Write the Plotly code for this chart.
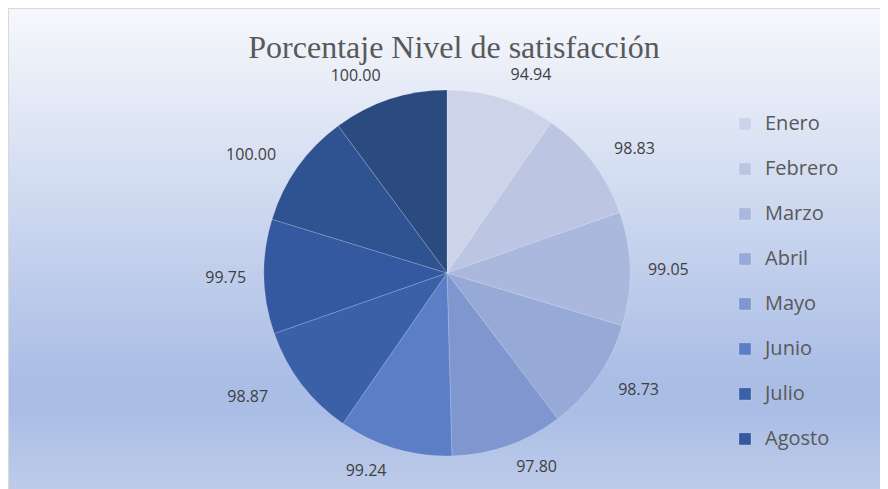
import base64
import plotly.graph_objects as go

# ---- data ----
months = ["Enero", "Febrero", "Marzo", "Abril", "Mayo", "Junio",
          "Julio", "Agosto", "Septiembre", "Octubre"]
satisfaction = [94.94, 98.83, 99.05, 98.73, 97.80, 99.24, 98.87, 99.75, 100.00, 100.00]
slice_colors = ["#cdd3e8", "#bcc6e3", "#abb8de", "#97a9d6", "#7f96ce",
                "#5b7ec7", "#3a61a8", "#3459a0", "#2f5291", "#2b4a80"]
title_text = "Porcentaje Nivel de satisfacción"

W, H = 888, 489
OFF = 8  # the page body adds an 8px offset

# legend entries: visible text at 20px, plus a wide spacer line (Excel-like spacing)
spacer = "\u00a0" * 45
legend_labels = [f"<span style='font-size:20px'>{m}</span><br>{spacer}" for m in months]

# gradient background (Excel "light gradient")
svg = (
    "<svg xmlns='http://www.w3.org/2000/svg' width='888' height='489' "
    "viewBox='0 0 888 489' preserveAspectRatio='none'>"
    "<defs><linearGradient id='g' x1='0' y1='0' x2='0' y2='1'>"
    "<stop offset='0' stop-color='#f6f8fc'/>"
    "<stop offset='0.76' stop-color='#aabde5'/>"
    "<stop offset='0.82' stop-color='#aabde5'/>"
    "<stop offset='1' stop-color='#bfcdea'/>"
    "</linearGradient></defs>"
    "<rect x='0' y='0' width='888' height='489' fill='url(#g)'/></svg>"
)
bg_src = "data:image/svg+xml;base64," + base64.b64encode(svg.encode()).decode()

def px(x):
    return (x - OFF) / W

def py(y):
    return 1 - (y - OFF) / H

# outside labels nudged away from the pie, like Excel's label placement
def label_tpl(left, right, spare):
    v = ("<span style='font-size:16px'>" + "\u00a0" * left +
         "%{value:.2f}" + "\u00a0" * right + "</span>")
    if spare == "below":
        return v + "<br>\u00a0"
    if spare == "above":
        return "\u00a0<br>" + v
    return v

label_templates = [
    label_tpl(0, 3, "below"),   # Enero
    label_tpl(3, 3, "below"),   # Febrero
    label_tpl(3, 3, None),      # Marzo
    label_tpl(3, 3, "above"),   # Abril
    label_tpl(0, 3, "above"),   # Mayo
    label_tpl(3, 0, "above"),   # Junio
    label_tpl(3, 6, "above"),   # Julio
    label_tpl(3, 3, None),      # Agosto
    label_tpl(3, 3, "below"),   # Septiembre
    label_tpl(3, 0, "below"),   # Octubre
]

fig = go.Figure(
    go.Pie(
        labels=legend_labels,
        values=satisfaction,
        sort=False,
        direction="clockwise",
        rotation=0,
        marker=dict(colors=slice_colors, line=dict(width=0.6, color="rgba(255,255,255,0.3)")),
        texttemplate=label_templates,
        textposition="outside",
        textfont=dict(family="Open Sans", size=12, color="#404040"),
        domain=dict(x=[px(264), px(630)], y=[py(456), py(90)]),
        hoverinfo="skip",
    )
)

fig.update_layout(
    width=W,
    height=H,
    margin=dict(l=0, r=0, t=0, b=0, autoexpand=False),
    paper_bgcolor="white",
    plot_bgcolor="rgba(0,0,0,0)",
    title=dict(
        text=title_text,
        x=px(454),
        xanchor="center",
        y=1 - (47 - OFF) / H,
        yanchor="middle",
        yref="container",
        font=dict(family="Liberation Serif", size=32, color="#595959"),
    ),
    legend=dict(
        x=px(725),
        xanchor="left",
        y=py(107),
        yanchor="top",
        valign="top",
        bgcolor="rgba(0,0,0,0)",
        font=dict(family="Open Sans", size=16.15, color="#595959"),
        maxheight=355,
    ),
    images=[dict(
        source=bg_src,
        xref="paper", yref="paper",
        x=0, y=1,
        sizex=1, sizey=1,
        xanchor="left", yanchor="top",
        sizing="stretch",
        layer="below",
    )],
    shapes=[
        dict(type="line", xref="paper", yref="paper",
             x0=0, x1=1, y0=py(8.5), y1=py(8.5),
             line=dict(color="#d9d9d9", width=1)),
        dict(type="line", xref="paper", yref="paper",
             x0=px(8.5), x1=px(8.5), y0=py(8), y1=0,
             line=dict(color="#d9d9d9", width=1)),
    ],
)

fig.write_html("out.html", config={"displayModeBar": False})
